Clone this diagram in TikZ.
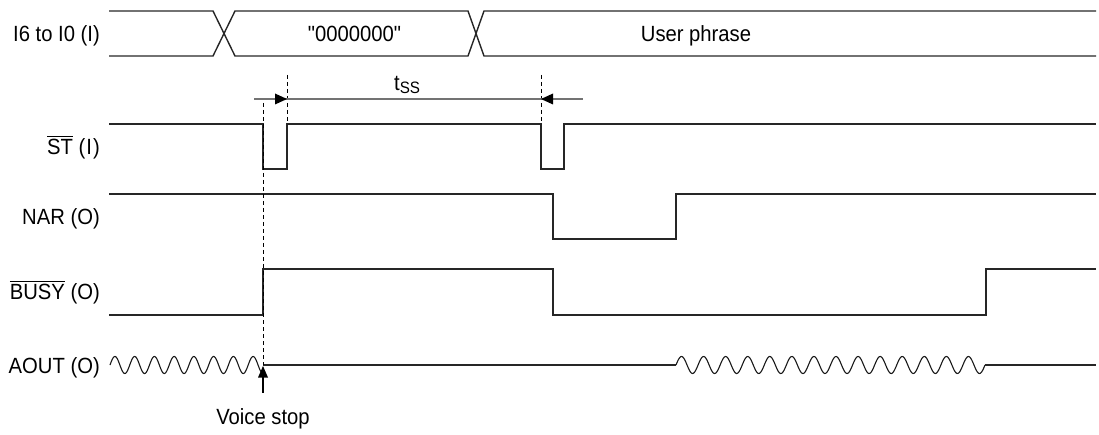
\documentclass[tikz,border=0pt]{standalone}
\usepackage{fontspec}
\setmainfont[FakeStretch=0.92, Ligatures=TeXOff]{Liberation Sans}
\usetikzlibrary{arrows.meta}
\newcommand\barred[1]{\leavevmode\vbox{\hrule height 1.1pt \kern 2.6pt \hbox{#1}}}
\begin{document}
\begin{tikzpicture}[x=1pt,y=-1pt,
  sig/.style={line width=1.4pt, black!85, line join=miter},
  wave/.style={line width=1.1pt, black!90},
  lbl/.style={anchor=base east, inner sep=0pt, font=\fontsize{22}{26}\selectfont},
  txt/.style={anchor=base, inner sep=0pt, font=\fontsize{22}{26}\selectfont},
  guide/.style={line width=0.9pt, black, dash pattern=on 4pt off 3pt},
  dimline/.style={line width=1.2pt, black!55},
  tipfill/.style={fill=black, draw=none}
]
\useasboundingbox (0,0) rectangle (1099,435);

% labels
\node[lbl] (lI)    at (100,41.5) {I6 to I0 (I)};
\node[lbl] (lST)   at (100,155)  {\barred{ST} (\kern1pt I\kern1pt)};
\node[lbl] (lNAR)  at (100,224.5){NAR (O)};
\node[lbl] (lBUSY) at (100,300)  {\barred{BUSY} (O)};
\node[lbl] (lAOUT) at (100,373.5){AOUT (O)};

% bus row
\draw[sig] (109,11) -- (213,11) -- (235,56) -- (468,56) -- (484,11) -- (1096,11);
\draw[sig] (109,56) -- (213,56) -- (235,11) -- (468,11) -- (484,56) -- (1096,56);
\node[txt] (zeros) at (354.5,41.5) {"0000000"};
\node[txt] (user)  at (696,41.5) {User phrase};

% ST
\draw[sig] (109,124) -- (263,124) -- (263,169) -- (287,169) -- (287,124) -- (541,124)
  -- (541,169) -- (564,169) -- (564,124) -- (1096,124);

% NAR
\draw[sig] (109,194) -- (553,194) -- (553,239) -- (676,239) -- (676,194) -- (1096,194);

% BUSY
\draw[sig] (109,315) -- (263,315) -- (263,269) -- (553,269) -- (553,315) -- (986,315)
  -- (986,269) -- (1096,269);

% AOUT
\draw[wave] plot[domain=110:263, samples=300, smooth] (\x, {365-8.5*sin((\x-110)*18.237)});
\draw[sig] (263,365) -- (676,365);
\draw[wave] plot[domain=676:985, samples=400, smooth] (\x, {365-8.5*sin((\x-676)*16.311)});
\draw[sig] (985,365) -- (1096,365);

% guides
\coordinate (g1top) at (263,103);
\coordinate (g1bot) at (263,365);
\coordinate (g2top) at (287,75);
\coordinate (g2bot) at (287,124);
\coordinate (g3top) at (541,75);
\coordinate (g3bot) at (541,124);
\draw[guide] (g1top) -- (g1bot);
\draw[guide] (g2top) -- (g2bot);
\draw[guide] (g3top) -- (g3bot);

% dimension t_SS
\coordinate (dl) at (254,99);
\coordinate (dr) at (583,99);
\draw[dimline] (dl) -- (dr);
\fill[tipfill] (287,99) -- (275,93.5) -- (275,104.5) -- cycle;
\fill[tipfill] (541,99) -- (553,93.5) -- (553,104.5) -- cycle;
\node[anchor=base west, inner sep=0pt, font=\fontsize{22}{26}\selectfont] (tss) at (394,91)
  {t\raisebox{-3pt}{\fontsize{16.5}{18}\selectfont SS}};

% voice stop
\node[txt] (voice) at (263,424) {Voice stop};
\coordinate (vtip) at (263,366);
\coordinate (vbase) at (263,377);
\coordinate (vend) at (263,393);
\fill[tipfill] (vtip) -- (258,377.5) -- (268,377.5) -- cycle;
\draw[line width=1.1pt] (vbase) -- (vend);
\end{tikzpicture}
\end{document}
